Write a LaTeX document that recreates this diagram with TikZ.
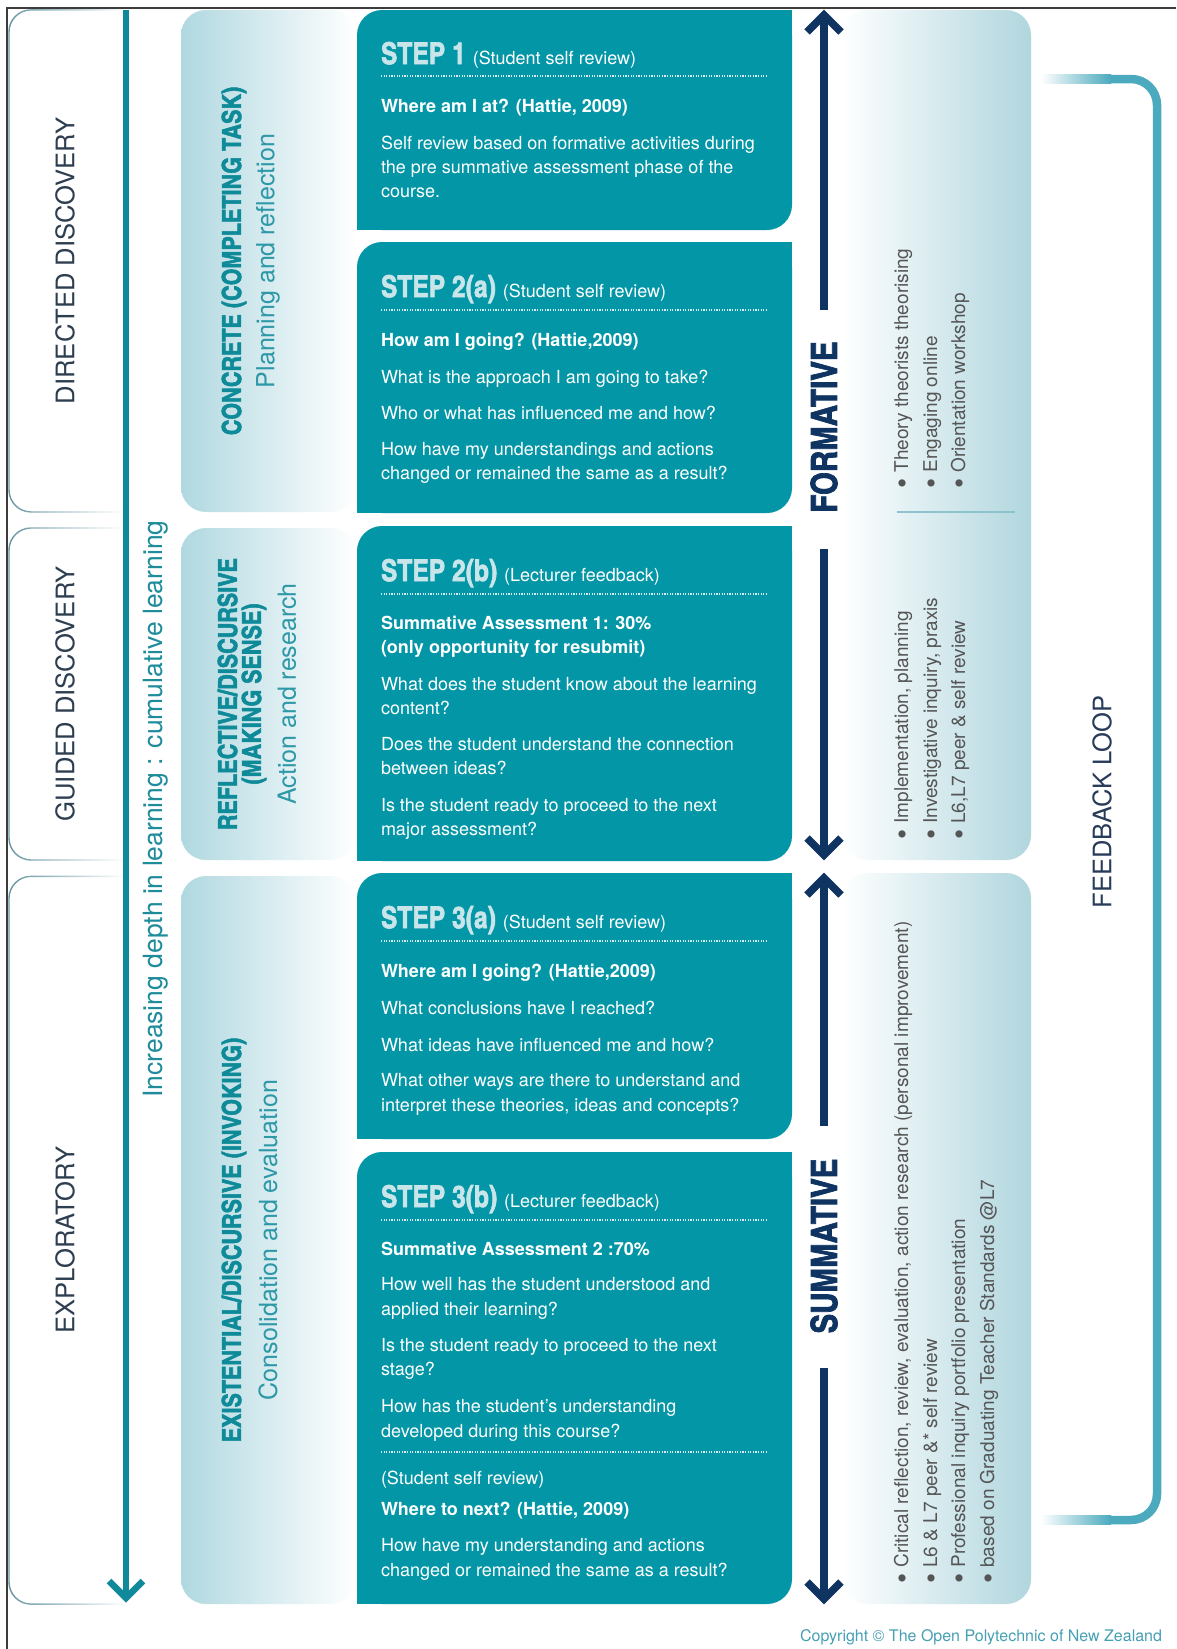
\documentclass[tikz,border=0pt]{standalone}
\usepackage{fontspec}
\setmainfont{TeX Gyre Heros}
\newfontfamily\cnbold{texgyreheroscn-bold.otf}[FakeBold=2]
\usetikzlibrary{fadings,calc}
\definecolor{stepteal}{RGB}{3,150,166}
\definecolor{stephead}{RGB}{200,229,234}
\definecolor{navyc}{RGB}{15,52,97}
\definecolor{arrowteal}{RGB}{16,137,154}
\definecolor{labelslate}{RGB}{45,62,80}
\definecolor{headteal}{RGB}{14,138,153}
\definecolor{subteal}{RGB}{45,152,167}
\definecolor{depthteal}{RGB}{30,140,155}
\definecolor{lpanel}{RGB}{176,216,224}
\definecolor{rpanel}{RGB}{176,214,222}
\definecolor{bulletgray}{RGB}{85,85,85}
\definecolor{fbteal}{RGB}{75,170,190}
\definecolor{fbtext}{RGB}{40,60,90}
\definecolor{copyteal}{RGB}{70,160,180}
\definecolor{outlinec}{RGB}{100,148,160}
\definecolor{sepc}{RGB}{140,195,205}
\definecolor{bordergray}{RGB}{60,60,60}
\definecolor{dotc}{RGB}{215,238,241}

\newcommand\stl[3]{\node[body] (#1) at (381,#2) {#3};}
\newcommand\stlb[3]{\node[bodyb] (#1) at (381,#2) {#3};}
\newcommand\sthead[4]{\node[body] (#1) at (381,#2) {{\cnbold\fontsize{30}{30}\selectfont\color{stephead}#3}\hspace{7pt}#4};}
\newcommand\dotrow[1]{\draw[dotline] (381,#1) -- (768,#1);}
\newcommand\mkstep[4]{%
  \fill[stepteal, rounded corners=25] (#1,#2) rectangle (#3,#4);
  \fill[stepteal] ({#3-30},#2) rectangle (#3,{#2+30});
  \fill[stepteal] (#1,{#4-30}) rectangle ({#1+30},#4);}
\newcommand\bul{\raisebox{-4pt}{\fontsize{29}{19}\selectfont\textbullet}\ }

\begin{document}
\begin{tikzpicture}[x=1pt,y=-1pt,
  every node/.style={inner sep=0pt,outer sep=0pt},
  body/.style={anchor=base west,text=white,font=\fontsize{18}{24}\selectfont},
  bodyb/.style={body,font=\fontsize{18}{24}\selectfont\bfseries},
  rot/.style={rotate=90,anchor=center},
  sidelabel/.style={rot,text=labelslate,font=\fontsize{25.6}{25.6}\selectfont},
  cattitle/.style={rot,text=headteal,font={\cnbold\fontsize{26.3}{21.5}\selectfont},align=center},
  catsub/.style={rot,text=subteal,font=\fontsize{25}{25}\selectfont},
  phase/.style={rot,text=navyc,font={\cnbold\fontsize{36}{36}\selectfont}},
  bulletline/.style={rotate=90,anchor=base west,text=bulletgray,font=\fontsize{19}{19}\selectfont},
  navyline/.style={draw=navyc,line width=7.5pt},
  tealline/.style={draw=arrowteal,line width=6.5pt},
  dotline/.style={draw=dotc,line width=1.1pt,dash pattern=on 1.1pt off 1.5pt},
  outl/.style={draw=outlinec,line width=1.4pt}
]
\useasboundingbox (0,0) rectangle (1176,1649);
\fill[white] (0,0) rectangle (1176,1649);

% frame lines
\draw[bordergray,line width=1.5pt] (7,1649) -- (7,8) -- (1176,8);

% left outline boxes
\draw[outl,path fading=east,rounded corners=22] (124,10) -- (9,10) -- (9,512) -- (124,512);
\draw[outl,path fading=east,rounded corners=22] (124,528) -- (9,528) -- (9,860) -- (124,860);
\draw[outl,path fading=east,rounded corners=22] (124,876) -- (9,876) -- (9,1604) -- (124,1604);
\node[sidelabel] (dd) at (65,261) {DIRECTED DISCOVERY};
\node[sidelabel] (gd) at (65,694) {GUIDED DISCOVERY};
\node[sidelabel] (ex) at (65,1240) {EXPLORATORY};

% depth arrow
\coordinate (dTop) at (126,10);
\coordinate (dTip) at (126,1598);
\draw[tealline] (dTop) -- (dTip);
\draw[tealline,line join=miter] ($(dTip)+(-17,-17)$) -- (dTip) -- ($(dTip)+(17,-17)$);
\node[rot,text=depthteal,font=\fontsize{26.5}{26.5}\selectfont] (depth) at (156,809)
  {Increasing depth in learning : cumulative learning};

% left category panels
\shade[left color=lpanel,right color=white,rounded corners=25] (181,10) rectangle (356,512);
\shade[left color=lpanel,right color=white,rounded corners=25] (181,528) rectangle (356,860);
\shade[left color=lpanel,right color=white,rounded corners=25] (181,876) rectangle (356,1604);
\node[cattitle] (c1) at (234,261) {CONCRETE (COMPLETING TASK)};
\node[catsub] (c1s) at (268,261) {Planning and reflection};
\node[cattitle] (c2) at (242,694) {REFLECTIVE/DISCURSIVE\\[2.5pt](MAKING SENSE)};
\node[catsub] (c2s) at (287,694) {Action and research};
\node[cattitle] (c3) at (234,1240) {EXISTENTIAL/DISCURSIVE (INVOKING)};
\node[catsub] (c3s) at (268,1240) {Consolidation and evaluation};

% step boxes
\mkstep{357}{10}{792}{230}
\mkstep{357}{242}{792}{513}
\mkstep{357}{526}{792}{861}
\mkstep{357}{873}{792}{1139}
\mkstep{357}{1152}{792}{1604}

% step 1
\sthead{h1}{64}{STEP 1}{(Student self review)}
\dotrow{76}
\stlb{s1b}{112}{Where am I at? (Hattie, 2009)}
\stl{s1l1}{149}{Self review based on formative activities during}
\stl{s1l2}{173}{the pre summative assessment phase of the}
\stl{s1l3}{197}{course.}

% step 2a
\sthead{h2a}{297}{STEP 2(a)}{(Student self review)}
\dotrow{310}
\stlb{s2ab}{346}{How am I going? (Hattie,2009)}
\stl{s2a1}{383}{What is the approach I am going to take?}
\stl{s2a2}{419}{Who or what has influenced me and how?}
\stl{s2a3}{455}{How have my understandings and actions}
\stl{s2a4}{479}{changed or remained the same as a result?}

% step 2b
\sthead{h2b}{581}{STEP 2(b)}{(Lecturer feedback)}
\dotrow{594}
\stlb{s2bb1}{629}{Summative Assessment 1: 30\%}
\stlb{s2bb2}{653}{(only opportunity for resubmit)}
\stl{s2b1}{690}{What does the student know about the learning}
\stl{s2b2}{714}{content?}
\stl{s2b3}{750}{Does the student understand the connection}
\stl{s2b4}{774}{between ideas?}
\stl{s2b5}{811}{Is the student ready to proceed to the next}
\stl{s2b6}{835}{major assessment?}

% step 3a
\sthead{h3a}{928}{STEP 3(a)}{(Student self review)}
\dotrow{941}
\stlb{s3ab}{977}{Where am I going? (Hattie,2009)}
\stl{s3a1}{1014}{What conclusions have I reached?}
\stl{s3a2}{1051}{What ideas have influenced me and how?}
\stl{s3a3}{1086}{What other ways are there to understand and}
\stl{s3a4}{1111}{interpret these theories, ideas and concepts?}

% step 3b
\sthead{h3b}{1207}{STEP 3(b)}{(Lecturer feedback)}
\dotrow{1220}
\stlb{s3bb}{1255}{Summative Assessment 2 :70\%}
\stl{s3b1}{1290}{How well has the student understood and}
\stl{s3b2}{1315}{applied their learning?}
\stl{s3b3}{1351}{Is the student ready to proceed to the next}
\stl{s3b4}{1375}{stage?}
\stl{s3b5}{1412}{How has the student’s understanding}
\stl{s3b6}{1437}{developed during this course?}
\dotrow{1452}
\stl{s3b7}{1484}{(Student self review)}
\stlb{s3b8}{1515}{Where to next? (Hattie, 2009)}
\stl{s3b9}{1551}{How have my understanding and actions}
\stl{s3b10}{1576}{changed or remained the same as a result?}

% right panels
\shade[left color=white,right color=rpanel,rounded corners=25] (842,10) rectangle (1031,860);
\shade[left color=white,right color=rpanel,rounded corners=25] (842,873) rectangle (1031,1604);
\draw[sepc,line width=1.2pt] (897,512) -- (1015,512);

\node[bulletline] (f1) at (908,488) {\bul Theory theorists theorising};
\node[bulletline] (f2) at (937,488) {\bul Engaging online};
\node[bulletline] (f3) at (965,488) {\bul Orientation workshop};
\node[bulletline] (g1) at (908,839) {\bul Implementation, planning};
\node[bulletline] (g2) at (937,839) {\bul Investigative inquiry, praxis};
\node[bulletline] (g3) at (965,839) {\bul L6,L7 peer \& self review};
\node[bulletline] (k1) at (908,1583) {\bul Critical reflection, review, evaluation, action research (personal improvement)};
\node[bulletline] (k2) at (937,1583) {\bul L6 \& L7 peer \&* self review};
\node[bulletline] (k3) at (965,1583) {\bul Professional inquiry portfolio presentation};
\node[bulletline] (k4) at (994,1583) {\bul based on Graduating Teacher Standards @L7};

% formative arrow
\coordinate (fTop) at (824,15);
\coordinate (fG1) at (824,310);
\coordinate (fG2) at (824,549);
\coordinate (fBot) at (824,855);
\draw[navyline] (fTop) -- (fG1);
\draw[navyline] (fG2) -- (fBot);
\draw[navyline,line join=miter] ($(fTop)+(-17,17)$) -- (fTop) -- ($(fTop)+(17,17)$);
\draw[navyline,line join=miter] ($(fBot)+(-17,-17)$) -- (fBot) -- ($(fBot)+(17,-17)$);
\node[phase] (form) at (824,427) {FORMATIVE};

% summative arrow
\coordinate (sTop) at (824,878);
\coordinate (sG1) at (824,1126);
\coordinate (sG2) at (824,1368);
\coordinate (sBot) at (824,1599);
\draw[navyline] (sTop) -- (sG1);
\draw[navyline] (sG2) -- (sBot);
\draw[navyline,line join=miter] ($(sTop)+(-17,17)$) -- (sTop) -- ($(sTop)+(17,17)$);
\draw[navyline,line join=miter] ($(sBot)+(-17,-17)$) -- (sBot) -- ($(sBot)+(17,-17)$);
\node[phase] (summ) at (824,1246) {SUMMATIVE};

% feedback loop
\coordinate (fbA) at (1110,79);
\coordinate (fbB) at (1157,79);
\coordinate (fbC) at (1157,1520);
\coordinate (fbD) at (1110,1520);
\draw[fbteal,line width=8.5pt,rounded corners=26] (fbA) -- (fbB) -- (fbC) -- (fbD);
\shade[left color=white,right color=fbteal] (1041,74.75) rectangle (1111,83.25);
\shade[left color=white,right color=fbteal] (1041,1515.75) rectangle (1111,1524.25);
\node[rot,text=fbtext,font=\fontsize{25.5}{25.5}\selectfont] (fbl) at (1102,802) {FEEDBACK LOOP};

% copyright
\node[anchor=base east,text=copyteal,font=\fontsize{16}{16}\selectfont] (copy) at (1162,1641)
  {Copyright © The Open Polytechnic of New Zealand};
\end{tikzpicture}
\end{document}
